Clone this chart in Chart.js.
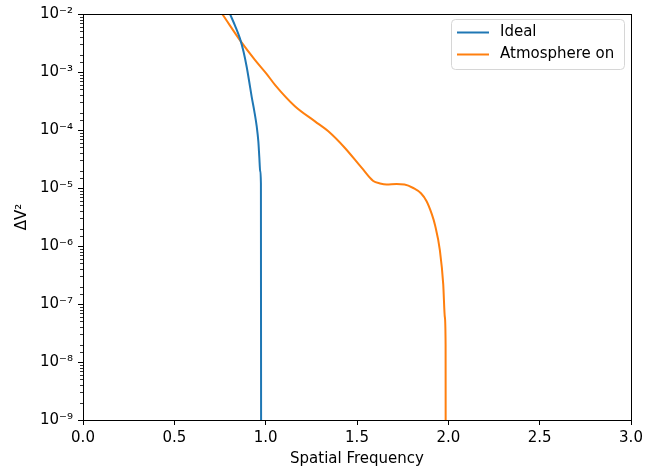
<!DOCTYPE html>
<html>
<head>
<meta charset="utf-8">
<script src="https://cdn.jsdelivr.net/npm/chart.js@4.4.0/dist/chart.umd.min.js"></script>
<style>
  html, body { margin: 0; padding: 0; background: #fff; }
  #wrap { width: 664px; height: 470px; }
</style>
</head>
<body>
<div id="wrap"><canvas id="chart"></canvas></div>
<script>
// series (1e-12 = drop to zero, below the axis)
const seriesLabels = ['Ideal', 'Atmosphere on'];
const seriesColors = ['#1f77b4', '#ff7f0e'];

const idealFreq = [0.70, 0.76, 0.805, 0.836, 0.859, 0.879, 0.896, 0.910, 0.923, 0.938,
                   0.951, 0.960, 0.965, 0.970, 0.974, 0.9755];
const idealV2   = [6e-2, 2.2e-2, 1.0e-2, 5.9e-3, 3.8e-3, 2.24e-3, 1.23e-3, 6.8e-4, 3.8e-4, 2.1e-4,
                   1.15e-4, 6.3e-5, 3.5e-5, 1.95e-5, 1.2e-5, 1e-12];

const atmosFreq = [0.70, 0.762, 0.863, 0.941, 1.005, 1.051, 1.160, 1.270, 1.343, 1.434,
                   1.525, 1.589, 1.626, 1.662, 1.717, 1.760, 1.808, 1.850, 1.881, 1.910,
                   1.927, 1.954, 1.972, 1.981, 1.985, 1.986];
const atmosV2   = [1.9e-2, 1.0e-2, 3.4e-3, 1.62e-3, 9.3e-4, 6.0e-4, 2.57e-4, 1.41e-4, 9.5e-5, 4.9e-5,
                   2.24e-5, 1.32e-5, 1.20e-5, 1.15e-5, 1.17e-5, 1.15e-5, 1.0e-5, 8.1e-6, 5.9e-6, 3.5e-6,
                   2.3e-6, 8.3e-7, 2.2e-7, 5.9e-8, 2.0e-8, 1e-12];

const xTicks = [0, 0.5, 1.0, 1.5, 2.0, 2.5, 3.0];
const supers = { '-': '⁻', '0': '⁰', '1': '¹', '2': '²', '3': '³', '4': '⁴', '5': '⁵', '6': '⁶', '7': '⁷', '8': '⁸', '9': '⁹' };

const FONT = { family: '"DejaVu Sans", sans-serif', size: 15 };

function isPow10(v) {
    const e = Math.log10(v);
    return Math.abs(e - Math.round(e)) < 1e-6;
}

function toPoints(xs, ys) {
    return xs.map((x, i) => ({ x: x, y: ys[i] }));
}

// spines, minor ticks and the matplotlib style legend
const framePlugin = {
    id: 'frame',
    afterDatasetsDraw(chart) {
        const { ctx, chartArea: a } = chart;
        const yScale = chart.scales.y;
        ctx.save();
        ctx.strokeStyle = '#000';
        ctx.lineWidth = 1;
        ctx.strokeRect(a.left + 0.5, a.top + 0.5, a.right - a.left, a.bottom - a.top);

        // minor log ticks
        ctx.beginPath();
        yScale.ticks.forEach(t => {
            if (isPow10(t.value)) return;
            const py = Math.round(yScale.getPixelForValue(t.value)) + 0.5;
            ctx.moveTo(a.left, py);
            ctx.lineTo(a.left - 3, py);
        });
        ctx.lineWidth = 0.8;
        ctx.stroke();

        // legend
        const bx = 451, by = 19, bw = 173, bh = 50, r = 4;
        ctx.beginPath();
        ctx.roundRect(bx + 0.5, by + 0.5, bw, bh, r);
        ctx.fillStyle = 'rgba(255,255,255,0.8)';
        ctx.fill();
        ctx.strokeStyle = '#d6d6d6';
        ctx.lineWidth = 1;
        ctx.stroke();

        ctx.font = '15px "DejaVu Sans", sans-serif';
        ctx.textBaseline = 'middle';
        ctx.textAlign = 'left';
        chart.data.datasets.forEach((ds, i) => {
            const ly = 32.5 + i * 22;
            ctx.beginPath();
            ctx.moveTo(457, ly);
            ctx.lineTo(489, ly);
            ctx.strokeStyle = ds.borderColor;
            ctx.lineWidth = 2;
            ctx.stroke();
            ctx.fillStyle = '#000';
            ctx.fillText(ds.label, 500, ly);
        });
        ctx.restore();
    }
};

new Chart(document.getElementById('chart'), {
    type: 'line',
    data: {
        datasets: [
            { label: seriesLabels[0], data: toPoints(idealFreq, idealV2) },
            { label: seriesLabels[1], data: toPoints(atmosFreq, atmosV2) }
        ].map((ds, i) => Object.assign(ds, {
            borderColor: seriesColors[i],
            backgroundColor: seriesColors[i],
            borderWidth: 2,
            pointRadius: 0,
            cubicInterpolationMode: 'monotone',
            fill: false
        }))
    },
    options: {
        responsive: true,
        maintainAspectRatio: false,
        animation: false,
        layout: { padding: { top: 12, right: 33, left: 0, bottom: 0 } },
        plugins: {
            legend: { display: false },
            tooltip: { enabled: false }
        },
        scales: {
            x: {
                type: 'linear',
                min: 0,
                max: 3,
                afterFit(scale) { scale.height = 50; },
                afterBuildTicks(scale) { scale.ticks = xTicks.map(v => ({ value: v })); },
                border: { display: false },
                grid: { drawOnChartArea: false, drawTicks: true, tickLength: 5, tickColor: '#000' },
                ticks: {
                    color: '#000',
                    font: FONT,
                    padding: 4,
                    maxRotation: 0,
                    autoSkip: false,
                    callback: v => v.toFixed(1)
                },
                title: {
                    display: true,
                    text: 'Spatial Frequency',
                    color: '#000',
                    font: FONT,
                    padding: { top: 0, bottom: 2 }
                }
            },
            y: {
                type: 'logarithmic',
                min: 1e-9,
                max: 1e-2,
                afterFit(scale) { scale.width = 83; },
                border: { display: false },
                grid: {
                    drawOnChartArea: false,
                    drawTicks: true,
                    tickLength: 5,
                    tickColor: c => (c.tick && isPow10(c.tick.value)) ? '#000' : 'rgba(0,0,0,0)'
                },
                ticks: {
                    color: '#000',
                    font: FONT,
                    padding: 5,
                    autoSkip: false,
                    callback: v => {
                        if (!isPow10(v)) return '';
                        const e = String(Math.round(Math.log10(v)));
                        return '10' + e.split('').map(ch => supers[ch]).join('');
                    }
                },
                title: {
                    display: true,
                    text: 'ΔV²',
                    color: '#000',
                    font: FONT,
                    padding: { top: 13, bottom: 0 }
                }
            }
        }
    },
    plugins: [framePlugin]
});
</script>
</body>
</html>
